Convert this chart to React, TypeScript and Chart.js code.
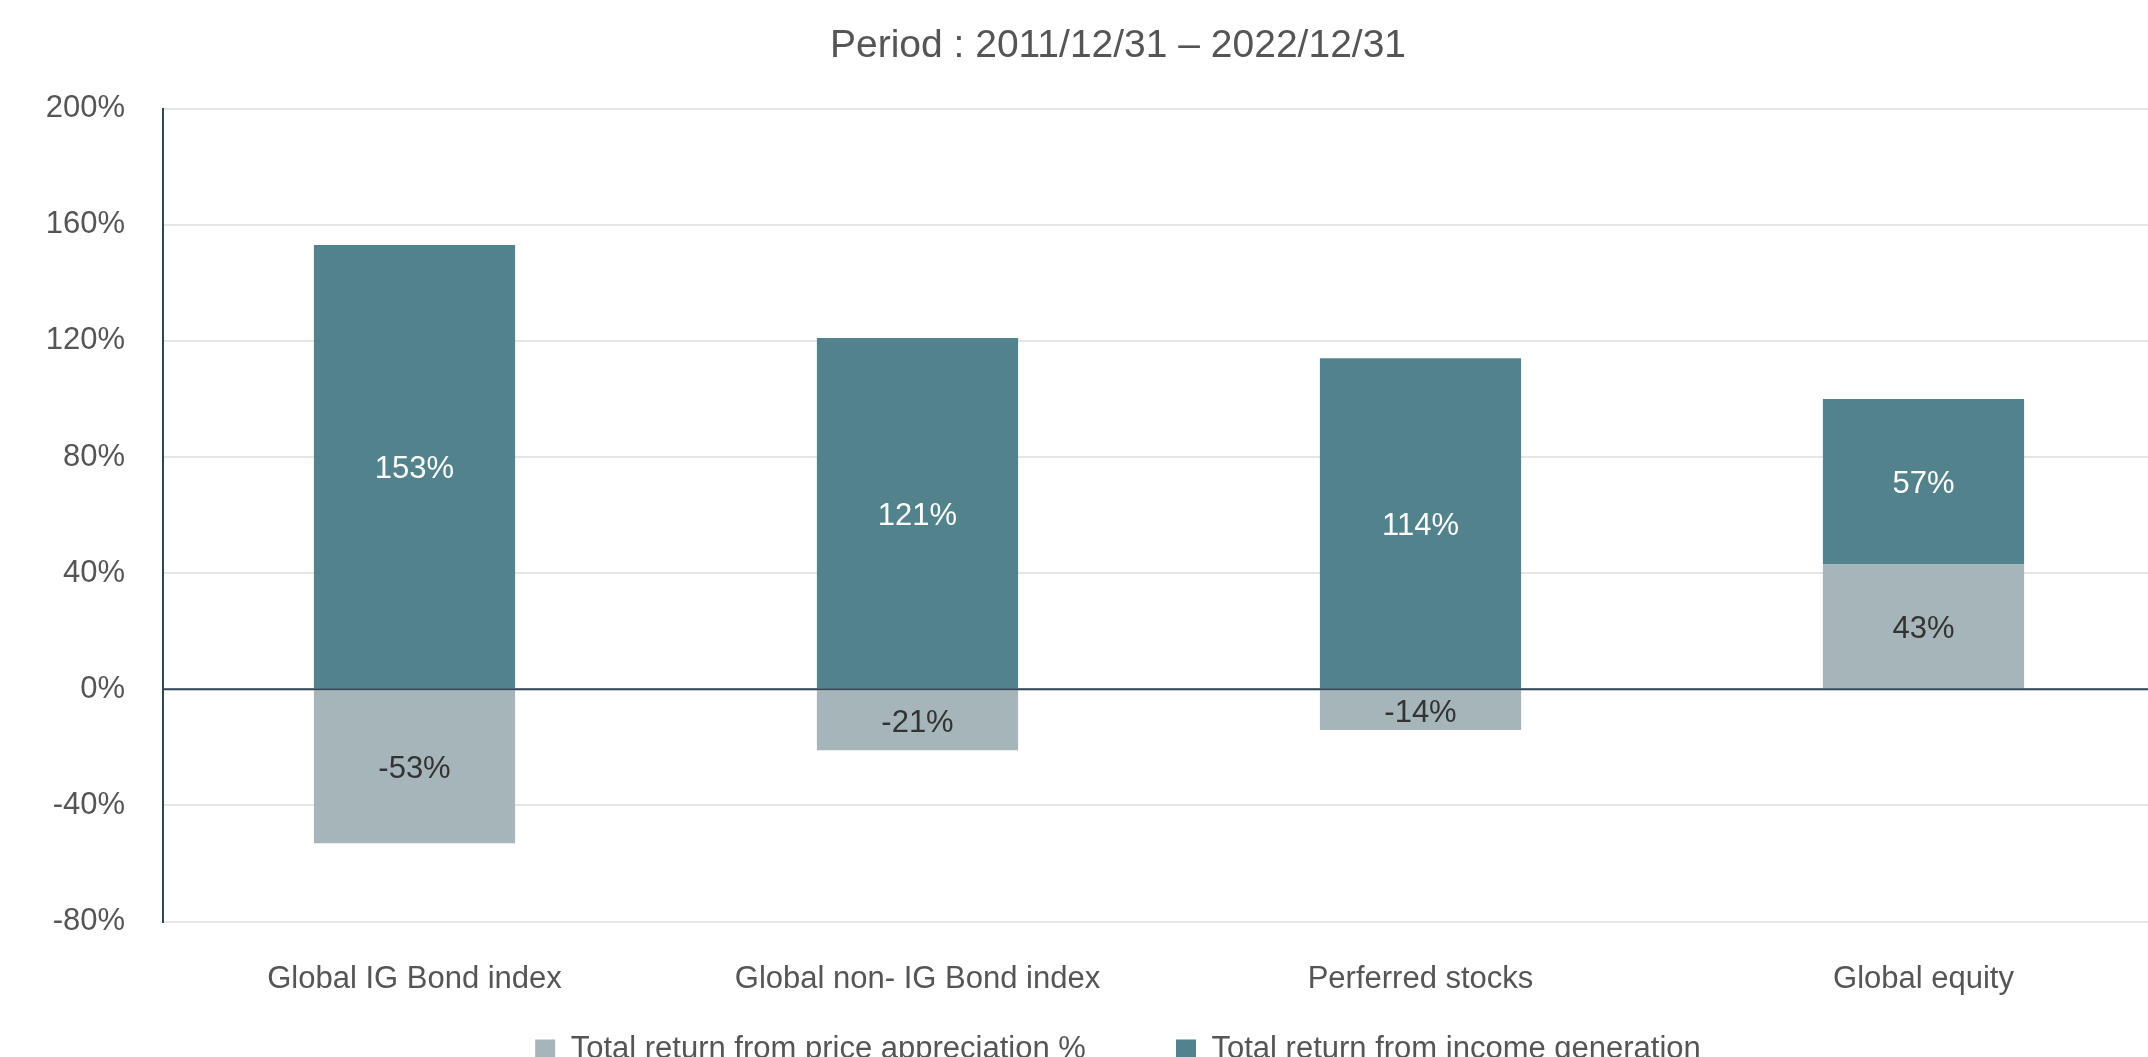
import React, { useEffect, useRef } from "react";
import { Chart, registerables } from "chart.js";

Chart.register(...registerables);

const titleText = "Period : 2011/12/31 – 2022/12/31";
const categories = [
  "Global IG Bond index",
  "Global non- IG Bond index",
  "Perferred stocks",
  "Global equity",
];
const seriesNames = [
  "Total return from price appreciation %",
  "Total return from income generation",
];
const priceAppreciation = [-53, -21, -14, 43];
const incomeGeneration = [153, 121, 114, 57];
const yMin = -80;
const yMax = 200;
const yStep = 40;

const FONT = '"Liberation Sans", Arial, Helvetica, sans-serif';
const TEXT = "#555555";
const DARK_LINE = "#2f4656";
const GRID = "#e6e6e6";
const COLOR_PRICE = "#a5b5b9";
const COLOR_INCOME = "#52838d";
const LABEL_COLORS = ["#333333", "#ffffff"];

const CANVAS_W = 2236;
const CANVAS_H = 1075;
const LEGEND_GAP = " ".repeat(10);

const zeroLinePlugin = {
  id: "zeroLine",
  afterDatasetsDraw(chart: any) {
    const { ctx, chartArea, scales } = chart;
    const y = scales.y.getPixelForValue(0);
    ctx.save();
    ctx.strokeStyle = DARK_LINE;
    ctx.lineWidth = 2;
    ctx.beginPath();
    ctx.moveTo(chartArea.left, y);
    ctx.lineTo(chartArea.right, y);
    ctx.stroke();
    ctx.restore();
  },
};

const barLabelPlugin = {
  id: "barLabels",
  afterDatasetsDraw(chart: any) {
    const { ctx } = chart;
    ctx.save();
    ctx.font = `31px ${FONT}`;
    ctx.textAlign = "center";
    ctx.textBaseline = "middle";
    chart.data.datasets.forEach((ds: any, i: number) => {
      const meta = chart.getDatasetMeta(i);
      if (meta.hidden) return;
      ctx.fillStyle = LABEL_COLORS[i];
      meta.data.forEach((bar: any, j: number) => {
        const p = bar.getProps(["x", "y", "base"], true);
        ctx.fillText(`${ds.data[j]}%`, p.x, (p.y + p.base) / 2 + 3);
      });
    });
    ctx.restore();
  },
};

export default function App() {
  const ref = useRef<HTMLCanvasElement | null>(null);

  useEffect(() => {
    if (!ref.current) return;
    Chart.defaults.font.family = FONT;
    const chart = new Chart(ref.current, {
      type: "bar",
      data: {
        labels: categories,
        datasets: [
          {
            label: seriesNames[0],
            data: priceAppreciation,
            backgroundColor: COLOR_PRICE,
            borderWidth: 0,
            barPercentage: 0.4,
            categoryPercentage: 1.0,
          },
          {
            label: seriesNames[1],
            data: incomeGeneration,
            backgroundColor: COLOR_INCOME,
            borderWidth: 0,
            barPercentage: 0.4,
            categoryPercentage: 1.0,
          },
        ],
      },
      options: {
        responsive: false,
        animation: false,
        devicePixelRatio: 1,
        layout: { padding: 0 },
        plugins: {
          title: {
            display: true,
            text: titleText,
            color: TEXT,
            font: { size: 39, weight: "normal", family: FONT },
            padding: { top: 23, bottom: 38.7 },
          },
          legend: {
            position: "bottom",
            labels: {
              color: TEXT,
              font: { size: 31, family: FONT },
              boxWidth: 20,
              boxHeight: 20,
              padding: 4,
              generateLabels(chart: any) {
                const items = Chart.defaults.plugins.legend.labels.generateLabels(chart);
                return items.map((it: any, i: number) =>
                  i < items.length - 1 ? { ...it, text: it.text + LEGEND_GAP } : it
                );
              },
            },
          },
          tooltip: { enabled: false },
        },
        scales: {
          x: {
            stacked: true,
            grid: { display: false },
            border: { display: false },
            ticks: {
              color: TEXT,
              font: { size: 31, family: FONT },
              padding: 31.6,
              maxRotation: 0,
              autoSkip: false,
            },
          },
          y: {
            stacked: true,
            min: yMin,
            max: yMax,
            ticks: {
              stepSize: yStep,
              color: TEXT,
              font: { size: 31, family: FONT },
              padding: 38,
              callback: (v: any) => `${v}%`,
            },
            grid: {
              color: GRID,
              lineWidth: 2,
              drawTicks: false,
            },
            border: { display: true, color: DARK_LINE, width: 2 },
            afterFit(scale: any) {
              scale.width = 163;
            },
          },
          spacer: {
            type: "linear",
            position: "right",
            display: true,
            grid: { display: false, drawTicks: false },
            border: { display: false },
            ticks: { display: false },
            afterFit(scale: any) {
              scale.width = 61;
            },
          },
        },
      },
      plugins: [zeroLinePlugin, barLabelPlugin],
    } as any);
    return () => chart.destroy();
  }, []);

  return (
    <div
      style={{
        position: "absolute",
        left: 0,
        top: 0,
        width: 2148,
        height: 1057,
        overflow: "hidden",
        background: "#ffffff",
      }}
    >
      <canvas
        ref={ref}
        width={CANVAS_W}
        height={CANVAS_H}
        style={{ width: CANVAS_W, height: CANVAS_H, display: "block" }}
      />
    </div>
  );
}
